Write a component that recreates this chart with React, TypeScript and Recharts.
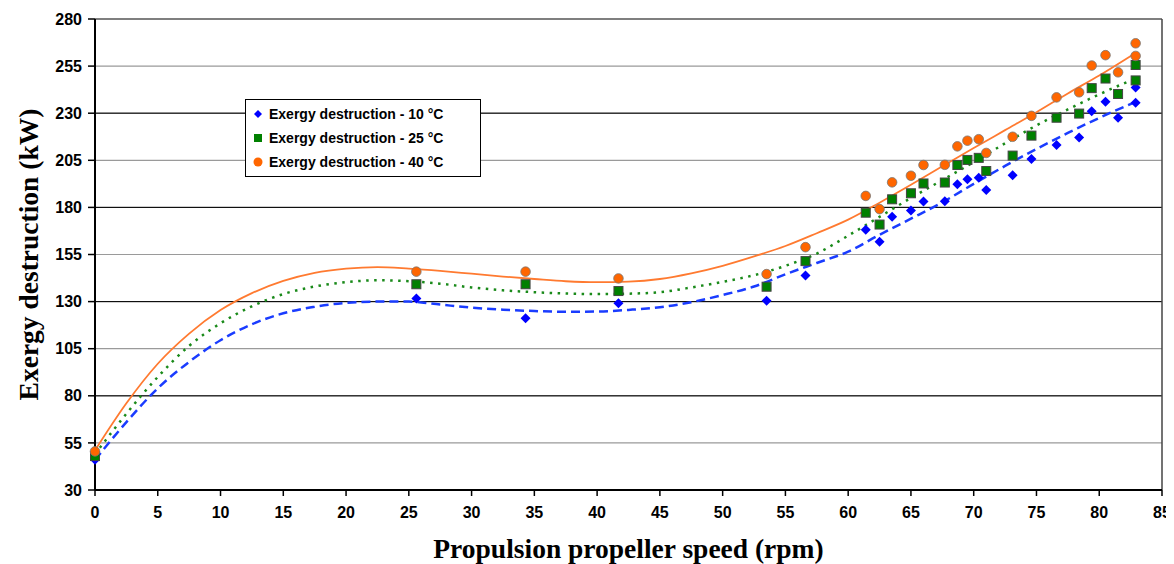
import React from 'react';
import {
  ComposedChart,
  Line,
  Scatter,
  XAxis,
  YAxis,
  CartesianGrid,
  ReferenceLine,
  Legend,
} from 'recharts';

// measured points (rpm)
const speed = [0, 25.6, 34.3, 41.7, 53.5, 56.6, 61.4, 62.5, 63.5, 65.0, 66.0, 67.7, 68.7, 69.5, 70.4, 71.0, 73.1, 74.6, 76.6, 78.4, 79.4, 80.5, 81.5, 82.9, 82.9];
const exergy10 = [46, 131.7, 121.1, 129.1, 130.5, 143.8, 168.2, 161.8, 175.1, 178.4, 183.1, 183.3, 192.3, 194.9, 195.8, 189.2, 197.1, 205.7, 213.1, 217.1, 231, 236.1, 227.6, 243.6, 235.6];
const exergy25 = [48, 139.2, 139.2, 135.6, 137.9, 151.5, 177.2, 170.9, 184.3, 187.5, 192.7, 193.2, 202.5, 205.2, 206.3, 199.3, 207.5, 218.1, 227.6, 229.8, 243.3, 248.4, 240.2, 255.6, 247.4];
const exergy40 = [50.5, 145.9, 145.9, 142.3, 144.6, 158.9, 186.1, 179.1, 193.3, 196.8, 202.5, 202.6, 212.4, 215.4, 216.2, 208.9, 217.5, 228.6, 238.4, 241.1, 255.3, 260.8, 251.7, 267.1, 260.4];

// trend lines
const trendSpeed = [0, 2.5, 5, 7.5, 10, 12.5, 15, 17.5, 20, 22.5, 25, 27.5, 30, 32.5, 35, 37.5, 40, 42.5, 45, 47.5, 50, 52.5, 55, 57.5, 60, 62.5, 65, 67.5, 70, 72.5, 75, 77.5, 80, 82.9];
const trend10 = [46, 66, 84, 98, 109.5, 118, 123.8, 127.3, 129.3, 130, 130, 128.4, 126.8, 125.7, 125, 124.6, 124.7, 125.6, 127, 129.7, 133.5, 138, 144.5, 150.5, 156.5, 165.5, 174, 182.7, 192.5, 202, 211, 219.5, 227.5, 236];
const trend25 = [49, 70.5, 90, 106.5, 118.5, 127.5, 134, 138, 140.3, 141.3, 140.8, 139.5, 137.5, 136, 135, 134.3, 134, 134.2, 135, 137.5, 140.5, 144, 149, 155.5, 165, 175, 185, 194.5, 204, 214, 223.5, 232, 240, 248.5];
const trend40 = [51, 76, 97, 113, 125.5, 134.5, 141, 145.3, 147.5, 148.3, 147.5, 146.3, 144.8, 143.3, 142, 140.8, 140.3, 140.6, 142, 145, 149, 154, 159.5, 166.3, 173.5, 182.5, 192, 201.8, 211.5, 221, 230.5, 240.5, 250, 262];

const xTicks = [0, 5, 10, 15, 20, 25, 30, 35, 40, 45, 50, 55, 60, 65, 70, 75, 80, 85];
const yTicks = [30, 55, 80, 105, 130, 155, 180, 205, 230, 255, 280];
const darkGrid = [80, 130, 180, 230];

const pts = (ys: number[]) => speed.map((x, i) => ({ x, y: ys[i] }));
const trend = (ys: number[]) => trendSpeed.map((x, i) => ({ x, y: ys[i] }));

const BLUE = '#0000ff';
const GREEN = '#008000';
const ORANGE = '#ff6600';

const tickStyle = {
  fontFamily: '"Liberation Sans", Arial, sans-serif',
  fontSize: 16,
  fontWeight: 'bold' as const,
  fill: '#000',
};

const titleStyle = {
  fontFamily: '"Liberation Serif", "Times New Roman", serif',
  fontSize: 27.5,
  fontWeight: 'bold' as const,
  fill: '#000',
};

const Diamond = (p: any) => (
  <polygon
    points={`${p.cx},${p.cy - 5} ${p.cx + 5},${p.cy} ${p.cx},${p.cy + 5} ${p.cx - 5},${p.cy}`}
    fill={BLUE}
  />
);
const Square = (p: any) => (
  <rect x={p.cx - 4.5} y={p.cy - 4.5} width={9} height={9} fill={GREEN} stroke="#444" strokeWidth={1} />
);
const Dot = (p: any) => <circle cx={p.cx} cy={p.cy} r={4.8} fill={ORANGE} stroke="#777" strokeWidth={0.8} />;

const marker = (shape: string, color: string) => {
  if (shape === 'diamond') return <polygon points="5,1 9,5 5,9 1,5" fill={color} />;
  if (shape === 'square') return <rect x={1} y={1} width={8} height={8} fill={color} />;
  return <circle cx={5} cy={5} r={4.5} fill={color} />;
};

const LegendBox = (props: any) => {
  const items = (props.payload || []).filter((e: any) => e.type !== 'none');
  return (
    <div
      style={{
        border: '1.5px solid #000',
        background: '#fff',
        padding: '2px 8px 2px 7px',
        width: 219,
        fontFamily: '"Liberation Sans", Arial, sans-serif',
        fontSize: 14,
        fontWeight: 'bold',
        color: '#000',
      }}
    >
      {items.map((e: any) => (
        <div key={e.value} style={{ display: 'flex', alignItems: 'center', height: 24 }}>
          <svg width={10} height={10} style={{ marginRight: 6 }}>
            {marker(e.type, e.color)}
          </svg>
          <span>{e.value}</span>
        </div>
      ))}
    </div>
  );
};

const YLabel = (props: any) => {
  const { x, y, height } = props.viewBox;
  const cx = x + 20;
  const cy = y + height / 2;
  return (
    <text
      x={cx}
      y={cy}
      transform={`rotate(-90, ${cx}, ${cy})`}
      textAnchor="middle"
      dominantBaseline="central"
      style={titleStyle}
    >
      Exergy destruction (kW)
    </text>
  );
};

const XLabel = (props: any) => {
  const { x, y, width } = props.viewBox;
  return (
    <text x={x + width / 2} y={y + 58} textAnchor="middle" dominantBaseline="central" style={titleStyle}>
      Propulsion propeller speed (rpm)
    </text>
  );
};

export default function App() {
  return (
    <ComposedChart width={1166} height={556} margin={{ top: 11, right: 12, left: 0, bottom: 0 }}>
      <CartesianGrid vertical={false} stroke="#9a9a9a" strokeWidth={1.2} />
      {darkGrid.map((v) => (
        <ReferenceLine key={v} y={v} stroke="#000" strokeWidth={1} />
      ))}
      <ReferenceLine y={280} stroke="#666" strokeWidth={1.5} />
      <ReferenceLine x={85} stroke="#444" strokeWidth={1.5} />
      <XAxis
        type="number"
        dataKey="x"
        domain={[0, 85]}
        ticks={xTicks}
        interval={0}
        height={74}
        tick={tickStyle}
        tickSize={6}
        tickMargin={11}
        tickLine={{ stroke: '#000', strokeWidth: 1.5 }}
        axisLine={{ stroke: '#000', strokeWidth: 2 }}
        label={<XLabel />}
      />
      <YAxis
        type="number"
        dataKey="y"
        domain={[30, 280]}
        ticks={yTicks}
        interval={0}
        width={87}
        tick={tickStyle}
        tickSize={7}
        tickMargin={6}
        tickLine={{ stroke: '#000', strokeWidth: 1.5 }}
        axisLine={{ stroke: '#000', strokeWidth: 2 }}
        label={<YLabel />}
      />
      <Line data={trend(trend10)} dataKey="y" type="monotone" stroke="#1a3cff" strokeWidth={2.5} strokeDasharray="9 5" dot={false} legendType="none" isAnimationActive={false} />
      <Line data={trend(trend25)} dataKey="y" type="monotone" stroke="#1a8a1a" strokeWidth={2.5} strokeDasharray="2.5 5.5" dot={false} legendType="none" isAnimationActive={false} />
      <Line data={trend(trend40)} dataKey="y" type="monotone" stroke="#ff7a30" strokeWidth={1.8} dot={false} legendType="none" isAnimationActive={false} />
      <Scatter name="Exergy destruction - 10 °C" data={pts(exergy10)} fill={BLUE} legendType="diamond" shape={Diamond} isAnimationActive={false} />
      <Scatter name="Exergy destruction - 25 °C" data={pts(exergy25)} fill={GREEN} legendType="square" shape={Square} isAnimationActive={false} />
      <Scatter name="Exergy destruction - 40 °C" data={pts(exergy40)} fill={ORANGE} legendType="circle" shape={Dot} isAnimationActive={false} />
      <Legend
        layout="vertical"
        align="center"
        verticalAlign="middle"
        wrapperStyle={{ left: 237, top: 91, width: 'auto' }}
        content={<LegendBox />}
      />
    </ComposedChart>
  );
}
